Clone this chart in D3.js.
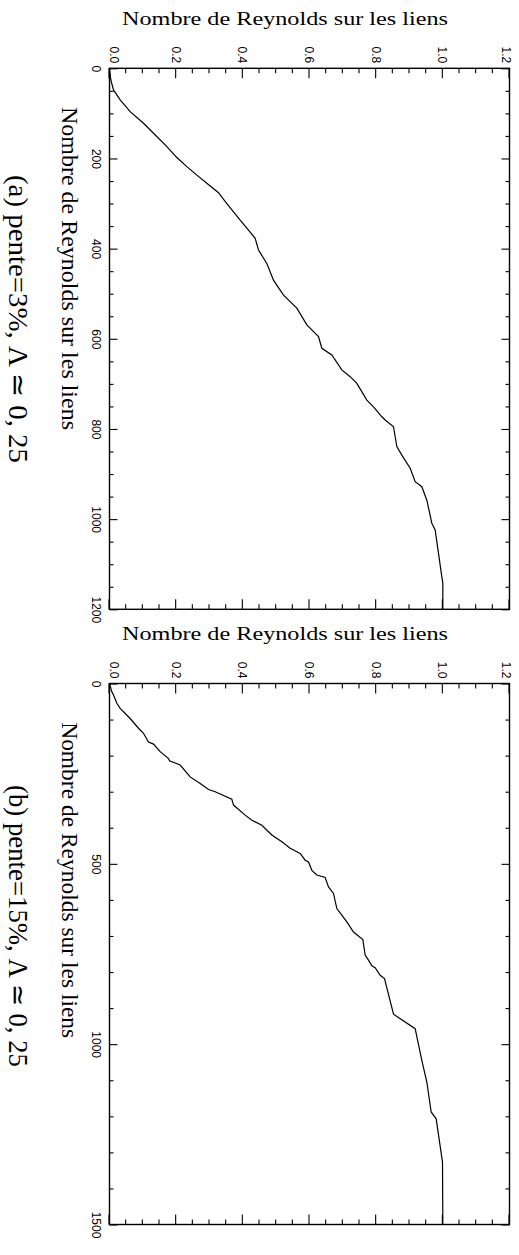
<!DOCTYPE html>
<html><head><meta charset="utf-8">
<script src="https://cdn.jsdelivr.net/npm/d3@7"></script>
<style>body{margin:0;background:#fff}svg{display:block}</style>
</head><body>
<svg id="c" width="519" height="1255"></svg>
<script>
// ---- data ----
const reynoldsA = [0,26,48,70,96,122,144,172,198,218,237,255,276,300,337,359,377,403,433,470,503,532,569,595,621,636,669,684,699,736,751,773,780,795,839,858,887,917,928,958,1009,1024,1076,1128,1142,1200];
const fractionA = [0,0.004,0.012,0.032,0.062,0.102,0.132,0.170,0.202,0.232,0.262,0.292,0.327,0.352,0.392,0.417,0.437,0.447,0.472,0.492,0.522,0.562,0.592,0.627,0.637,0.667,0.697,0.722,0.742,0.772,0.792,0.817,0.827,0.852,0.862,0.877,0.902,0.917,0.937,0.952,0.967,0.977,0.987,0.997,1.0,1.0];
const reynoldsB = [0,23,32,55,69,97,124,138,162,168,189,208,214,226,259,277,294,300,321,337,365,379,393,420,439,457,471,490,495,518,531,538,564,582,624,642,661,689,710,753,767,783,788,809,818,917,957,1045,1105,1188,1207,1327,1500];
const fractionB = [0,0.007,0.012,0.022,0.032,0.062,0.087,0.102,0.117,0.132,0.152,0.177,0.180,0.212,0.242,0.272,0.297,0.317,0.367,0.372,0.407,0.427,0.457,0.487,0.517,0.542,0.572,0.587,0.597,0.607,0.622,0.647,0.657,0.672,0.682,0.697,0.712,0.732,0.760,0.767,0.777,0.787,0.797,0.812,0.825,0.852,0.917,0.937,0.952,0.965,0.980,0.999,1.0];
const valueTicks = [0,0.2,0.4,0.6,0.8,1.0,1.2];
const reynoldsTicksA = [0,200,400,600,800,1000,1200];
const reynoldsTicksB = [0,500,1000,1500];
const axisTitle = "Nombre de Reynolds sur les liens";
const captionA = "(a) pente=3%, \u039B \u2243 0, 25";
const captionB = "(b) pente=15%, \u039B \u2243 0, 25";

const svg = d3.select("#c");
const LEFT = 109.5, RIGHT = 509.5, H = RIGHT - LEFT, W = 541;

function panel(top, rData, vData, rTicks, rMax, rMinorStep, caption, capLen, titleLen) {
  const g = svg.append("g").attr("transform", `translate(${RIGHT},${top}) rotate(90)`);
  const x = d3.scaleLinear().domain([0, rMax]).range([0, W]);
  const y = d3.scaleLinear().domain([0, 1.2]).range([H, 0]);
  const rMinor = d3.range(0, rMax + 1e-9, rMinorStep).filter(v => !rTicks.includes(v));
  const vMinor = d3.range(0, 1.2001, 0.05).filter(v => Math.abs(v*5 - Math.round(v*5)) > 1e-6);
  const fontT = "Liberation Sans, Arial, sans-serif";

  function styleAxis(sel) {
    sel.select(".domain").remove();
    sel.selectAll("line").attr("stroke", "#000").attr("stroke-width", 1.1);
    sel.selectAll("text").attr("font-family", fontT).attr("font-size", 12).attr("fill", "#000");
  }
  // Reynolds axis (screen left edge) with labels
  g.append("g").attr("transform", `translate(0,${H})`)
    .call(d3.axisBottom(x).tickValues(rTicks).tickSize(-8).tickPadding(9).tickFormat(d3.format("d"))).call(styleAxis);
  g.append("g").attr("transform", `translate(0,${H})`)
    .call(d3.axisBottom(x).tickValues(rMinor).tickSize(-4).tickFormat("")).call(styleAxis);
  // Reynolds axis (screen right edge), ticks only
  g.append("g").call(d3.axisTop(x).tickValues(rTicks).tickSize(-8).tickFormat("")).call(styleAxis);
  g.append("g").call(d3.axisTop(x).tickValues(rMinor).tickSize(-4).tickFormat("")).call(styleAxis);
  // value axis (screen top edge) with labels
  const va = g.append("g")
    .call(d3.axisLeft(y).tickValues(valueTicks).tickSize(-10).tickPadding(5).tickFormat(d3.format(".1f"))).call(styleAxis);
  va.selectAll(".tick text").attr("transform", d => d === 0 ? "translate(0,-4.5)" : (d === 1.2 ? "translate(0,3.5)" : null));
  g.append("g").call(d3.axisLeft(y).tickValues(vMinor).tickSize(-5).tickFormat("")).call(styleAxis);
  // value axis (screen bottom edge), ticks only
  g.append("g").attr("transform", `translate(${W},0)`)
    .call(d3.axisRight(y).tickValues(valueTicks).tickSize(-10).tickFormat("")).call(styleAxis);
  g.append("g").attr("transform", `translate(${W},0)`)
    .call(d3.axisRight(y).tickValues(vMinor).tickSize(-5).tickFormat("")).call(styleAxis);
  // frame
  g.append("rect").attr("x", 0).attr("y", 0).attr("width", W).attr("height", H)
    .attr("fill", "none").attr("stroke", "#000").attr("stroke-width", 1.4);
  // curve
  const pts = rData.map((r, i) => [r, vData[i]]);
  g.append("path").datum(pts)
    .attr("d", d3.line().x(d => x(d[0])).y(d => y(d[1])))
    .attr("fill", "none").attr("stroke", "#000").attr("stroke-width", 1.2);

  const serif = "Liberation Serif, Times New Roman, serif";
  // top title (value axis title)
  svg.append("text").attr("x", 122).attr("y", top - 43.3)
    .attr("font-family", serif).attr("font-size", 19).attr("fill", "#000")
    .attr("textLength", 326).attr("lengthAdjust", "spacingAndGlyphs").text(axisTitle);
  // left title (Reynolds axis title)
  svg.append("text").attr("transform", `translate(62,${top + 38.7}) rotate(90)`)
    .attr("font-family", serif).attr("font-size", 24).attr("fill", "#000")
    .attr("textLength", titleLen).attr("lengthAdjust", "spacingAndGlyphs").text(axisTitle);
  // caption
  svg.append("text").attr("transform", `translate(9,${top + capLen[0]}) rotate(90)`)
    .attr("font-family", serif).attr("font-size", 27).attr("fill", "#000")
    .attr("textLength", capLen[1]).attr("lengthAdjust", "spacingAndGlyphs").text(caption);
}

panel(68.3, reynoldsA, fractionA, reynoldsTicksA, 1200, 50, captionA, [106.7, 288], 323);
panel(683.5, reynoldsB, fractionB, reynoldsTicksB, 1500, 100, captionB, [101.5, 282], 316);
</script>
</body></html>
